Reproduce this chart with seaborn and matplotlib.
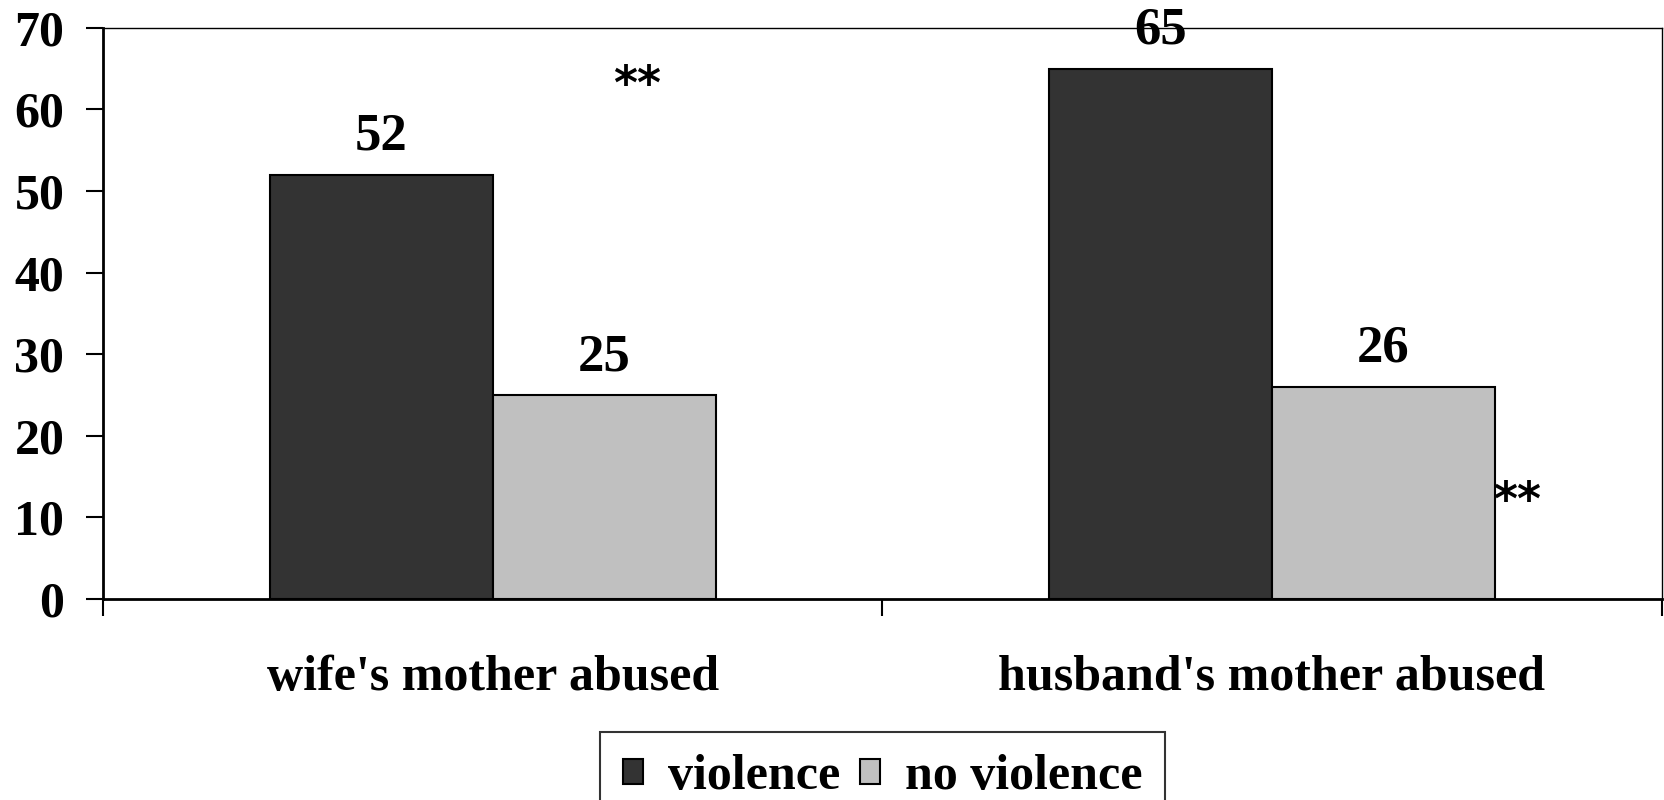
import seaborn as sns
import matplotlib.pyplot as plt
import pandas as pd

categories = ["wife's mother abused", "husband's mother abused"]
groups = ["violence", "no violence"]
violence = [52, 65]
no_violence = [25, 26]
star_marks = [(0.185, 62.8), (1.315, 11.8)]

df = pd.DataFrame({
    "category": categories * 2,
    "group": [groups[0]] * 2 + [groups[1]] * 2,
    "value": violence + no_violence,
})

sns.set_style("white")
plt.rcParams['font.family'] = ['Liberation Serif', 'DejaVu Serif']
plt.rcParams['font.weight'] = 'bold'
plt.rcParams['text.color'] = 'black'
plt.rcParams['xtick.color'] = 'black'
plt.rcParams['ytick.color'] = 'black'
plt.rcParams['axes.labelcolor'] = 'black'

fig = plt.figure(figsize=(16.64, 8), dpi=100)
ax = fig.add_axes([0.062, 0.25125, 0.9365, 0.714])

sns.barplot(data=df, x="category", y="value", hue="group", order=categories,
            hue_order=groups, palette=["#333333", "#c0c0c0"], width=0.573,
            edgecolor="black", linewidth=1.5, ax=ax, legend=True)

for cont in ax.containers:
    for bar in cont:
        h = bar.get_height()
        ax.annotate(f"{h:.0f}", (bar.get_x() + bar.get_width() / 2, h),
                    xytext=(0, 10), textcoords="offset points",
                    ha="center", va="bottom", fontsize=38, fontweight="bold",
                    color="black", annotation_clip=False)

# significance marks
for x, y in star_marks:
    ax.text(x, y, "**", ha="center", va="center", fontsize=33,
            fontfamily="DejaVu Sans", fontweight="bold", color="black")

ax.set_ylim(0, 70)
ax.set_xlim(-0.5, 1.5)
ax.set_yticks(range(0, 71, 10))
ax.tick_params(axis="y", direction="out", length=12, width=1.5, pad=16,
               labelsize=36, left=True)
ax.set_xticks([-0.5, 0.5, 1.5])
ax.set_xticklabels([])
ax.tick_params(axis="x", which="major", direction="out", length=12, width=1.5,
               bottom=True)
ax.set_xticks([0, 1], minor=True)
ax.set_xticklabels(categories, minor=True)
ax.tick_params(axis="x", which="minor", length=0, pad=40, labelsize=36)
ax.set_xlabel("")
ax.set_ylabel("")

for side in ["left", "bottom"]:
    ax.spines[side].set_linewidth(2)
    ax.spines[side].set_color("black")
for side in ["top", "right"]:
    ax.spines[side].set_linewidth(1)
    ax.spines[side].set_color("black")

handles, labels = ax.get_legend_handles_labels()
ax.legend(handles, labels, loc="upper center", ncol=2,
          bbox_to_anchor=(0.5305, 1 - 732 / 800), bbox_transform=fig.transFigure,
          frameon=True, fancybox=False, edgecolor="black", fontsize=36,
          handlelength=0.4, handleheight=0.4, handletextpad=0.5,
          columnspacing=0.4, borderpad=0.45, borderaxespad=0)
ax.get_legend().get_frame().set_linewidth(1.5)

fig.savefig("out.png", dpi=100)
